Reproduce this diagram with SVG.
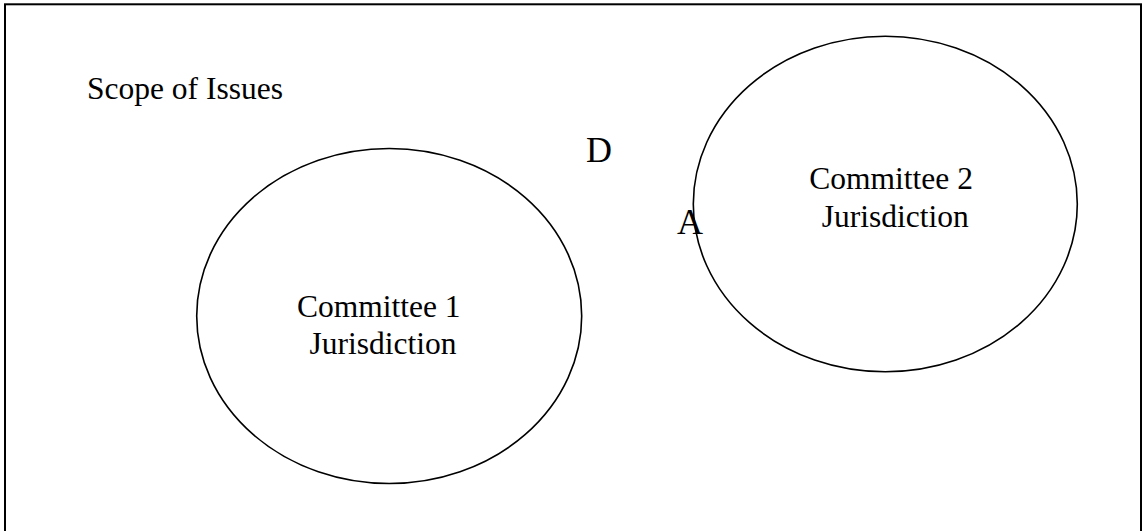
<svg xmlns="http://www.w3.org/2000/svg" width="1142" height="531" viewBox="0 0 1142 531">
<style>
.t{font-family:"Liberation Serif","Times New Roman",serif;font-size:31.5px;fill:#000}
.big{font-family:"Liberation Serif","Times New Roman",serif;font-size:36px;fill:#000}
.e{fill:none;stroke:#000;stroke-width:1.6}
</style>
<rect width="1142" height="531" fill="#fff"/>
<g id="scope">
<rect x="5" y="4.3" width="1136" height="540" fill="none" stroke="#000" stroke-width="2"/>
<text class="t" x="87" y="98.8">Scope of Issues</text>
</g>
<g id="committee1">
<ellipse class="e" cx="389.2" cy="316" rx="192.5" ry="167.5"/>
<text class="t" x="297" y="316.7">Committee 1</text>
<text class="t" x="309.5" y="354">Jurisdiction</text>
</g>
<g id="committee2">
<ellipse class="e" cx="885.3" cy="204" rx="192" ry="167.8"/>
<text class="t" x="809.3" y="188.5">Committee 2</text>
<text class="t" x="821.7" y="226.5">Jurisdiction</text>
</g>
<g id="labelD"><text class="big" x="586" y="162.3">D</text></g>
<g id="labelA"><text class="big" x="677" y="234.3">A</text></g>
<g id="connectors"></g>
</svg>
